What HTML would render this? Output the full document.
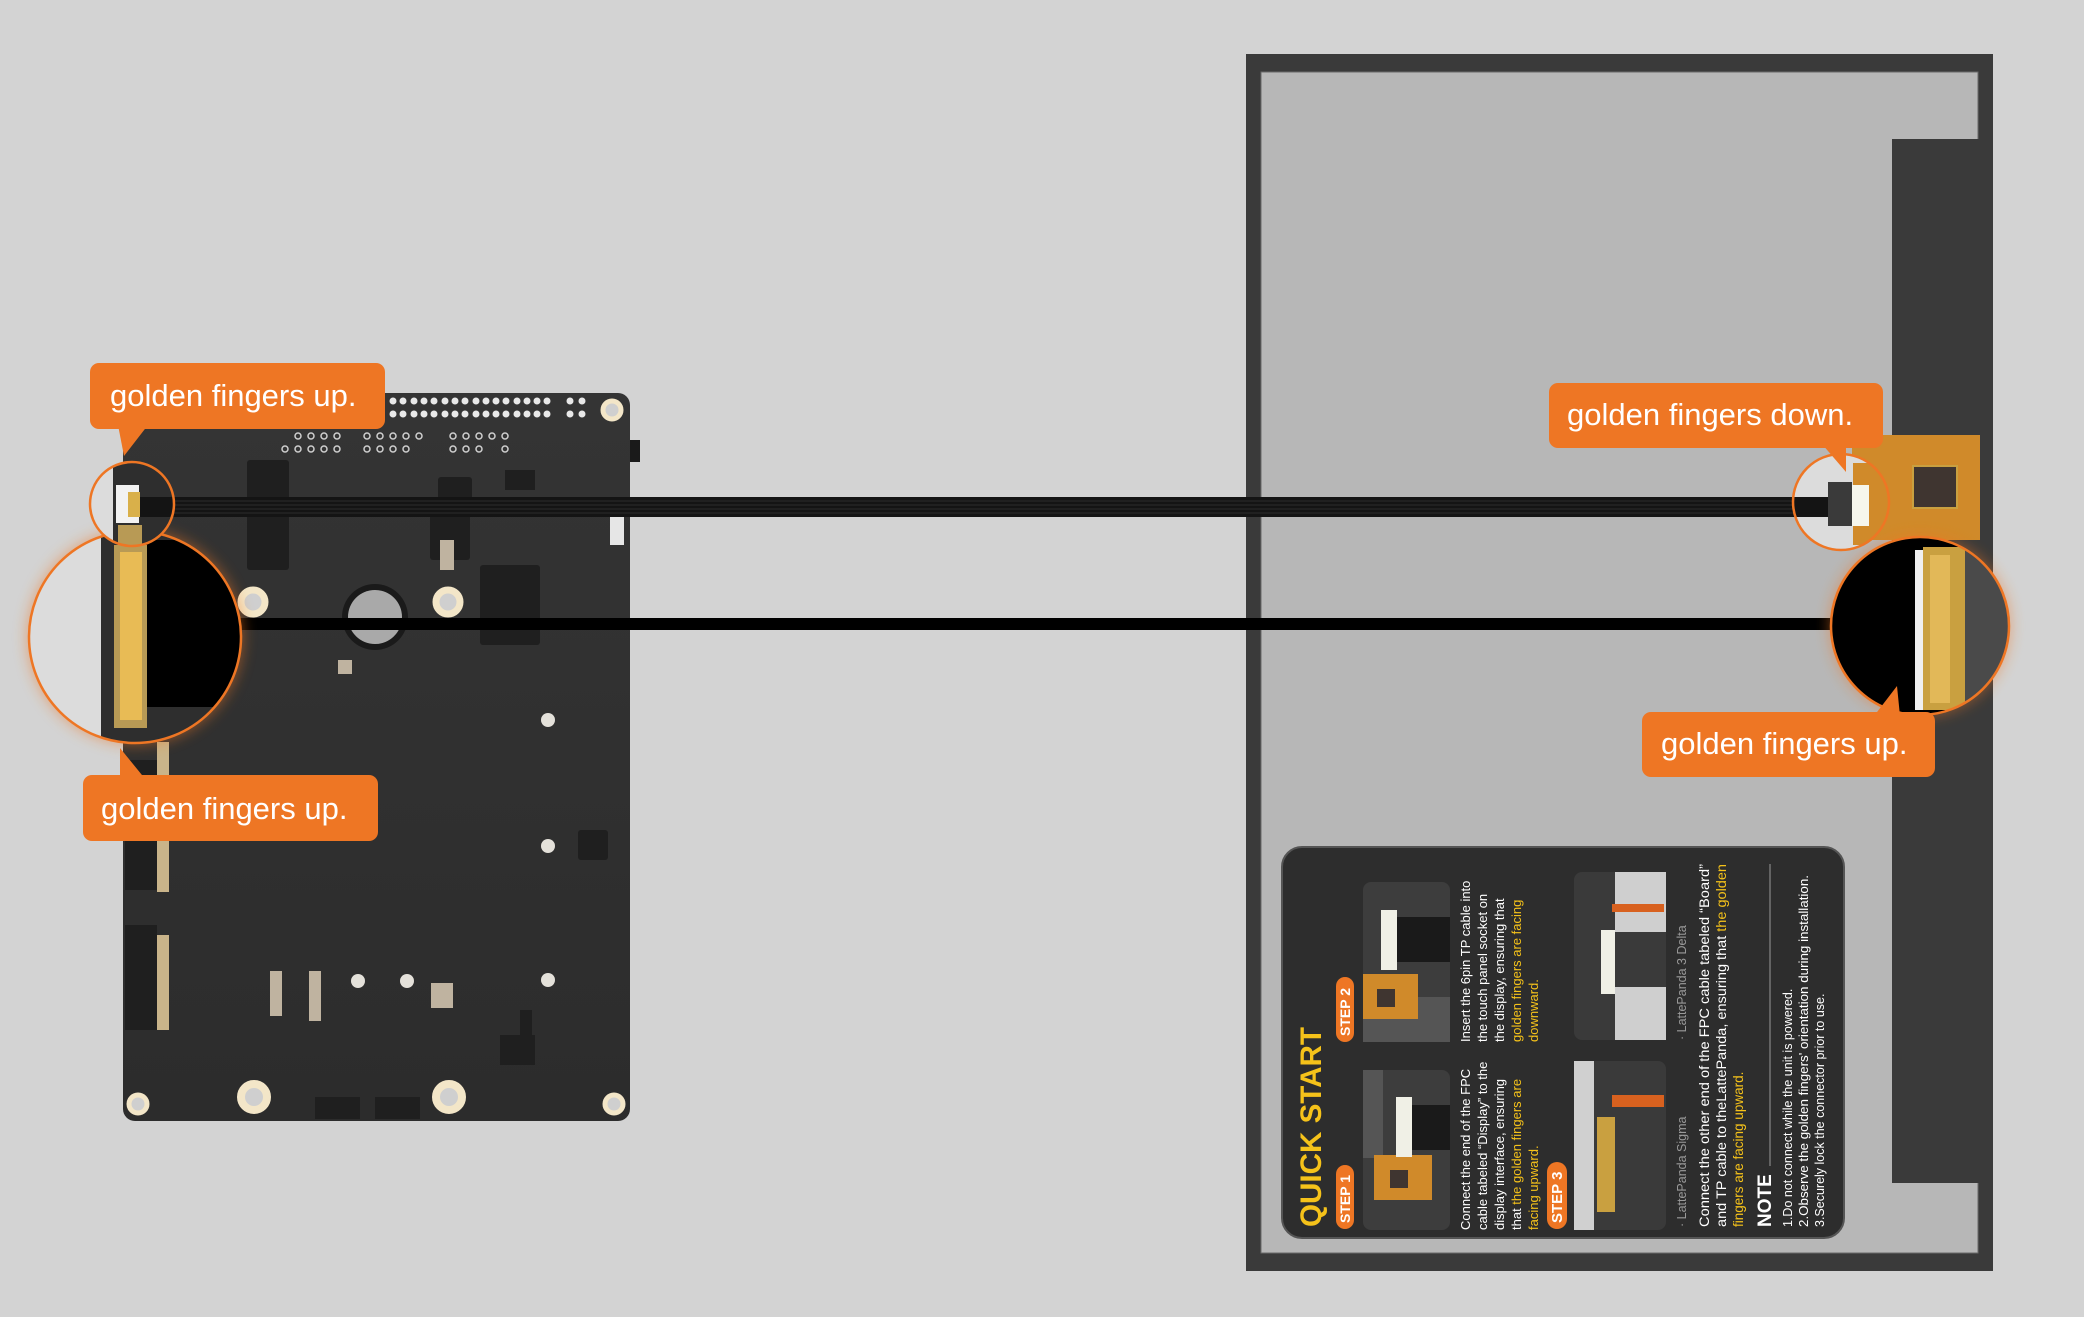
<!DOCTYPE html>
<html><head><meta charset="utf-8"><style>
html,body{margin:0;padding:0;background:#d3d3d3;}
svg{display:block;}
text{font-family:"Liberation Sans",sans-serif;}
</style></head><body>
<svg width="2084" height="1317" viewBox="0 0 2084 1317" xmlns="http://www.w3.org/2000/svg">
<defs>
<filter id="glow" x="-30%" y="-30%" width="160%" height="160%"><feGaussianBlur stdDeviation="7"/></filter>
<clipPath id="cL1"><circle cx="132" cy="504" r="42"/></clipPath>
<clipPath id="cL2"><circle cx="135" cy="637" r="106"/></clipPath>
<clipPath id="cR1"><circle cx="1841" cy="502" r="48"/></clipPath>
<clipPath id="cR2"><circle cx="1920" cy="626" r="89"/></clipPath>
<linearGradient id="bg" x1="0" y1="0" x2="0" y2="1"><stop offset="0" stop-color="#343434"/><stop offset="1" stop-color="#2c2c2c"/></linearGradient>
</defs>
<rect width="2084" height="1317" fill="#d3d3d3"/>

<!-- Display panel -->
<rect x="1246" y="54" width="747" height="1217" fill="#3a3a3a"/>
<rect x="1261" y="72" width="717" height="1181" fill="#b7b7b7" stroke="#6a6a6a" stroke-width="1"/>
<rect x="1892" y="139" width="101" height="1044" fill="#3a3a3a"/>

<!-- FPC on panel -->
<rect x="1852" y="435" width="128" height="105" fill="#d08a2a"/>
<rect x="1913" y="466" width="44" height="42" fill="#3f3530" stroke="#c9a040" stroke-width="2"/>

<!-- Board -->
<rect x="123" y="393" width="507" height="728" rx="12" fill="url(#bg)"/>
<rect x="630" y="440" width="10" height="22" fill="#1a1a1a"/>
<g fill="#e8e8e8">
<circle cx="393" cy="401" r="3.5"/><circle cx="403" cy="401" r="3.5"/><circle cx="414" cy="401" r="3.5"/><circle cx="424" cy="401" r="3.5"/><circle cx="434" cy="401" r="3.5"/><circle cx="445" cy="401" r="3.5"/><circle cx="455" cy="401" r="3.5"/><circle cx="465" cy="401" r="3.5"/><circle cx="476" cy="401" r="3.5"/><circle cx="486" cy="401" r="3.5"/><circle cx="496" cy="401" r="3.5"/><circle cx="506" cy="401" r="3.5"/><circle cx="517" cy="401" r="3.5"/><circle cx="527" cy="401" r="3.5"/><circle cx="537" cy="401" r="3.5"/><circle cx="547" cy="401" r="3.5"/><circle cx="570" cy="401" r="3.5"/><circle cx="582" cy="401" r="3.5"/>
<circle cx="393" cy="414" r="3.5"/><circle cx="403" cy="414" r="3.5"/><circle cx="414" cy="414" r="3.5"/><circle cx="424" cy="414" r="3.5"/><circle cx="434" cy="414" r="3.5"/><circle cx="445" cy="414" r="3.5"/><circle cx="455" cy="414" r="3.5"/><circle cx="465" cy="414" r="3.5"/><circle cx="476" cy="414" r="3.5"/><circle cx="486" cy="414" r="3.5"/><circle cx="496" cy="414" r="3.5"/><circle cx="506" cy="414" r="3.5"/><circle cx="517" cy="414" r="3.5"/><circle cx="527" cy="414" r="3.5"/><circle cx="537" cy="414" r="3.5"/><circle cx="547" cy="414" r="3.5"/><circle cx="570" cy="414" r="3.5"/><circle cx="582" cy="414" r="3.5"/>
</g>
<g fill="none" stroke="#cfcfcf" stroke-width="1.5">
<circle cx="298" cy="436" r="3"/><circle cx="311" cy="436" r="3"/><circle cx="324" cy="436" r="3"/><circle cx="337" cy="436" r="3"/>
<circle cx="367" cy="436" r="3"/><circle cx="380" cy="436" r="3"/><circle cx="393" cy="436" r="3"/><circle cx="406" cy="436" r="3"/><circle cx="419" cy="436" r="3"/>
<circle cx="453" cy="436" r="3"/><circle cx="466" cy="436" r="3"/><circle cx="479" cy="436" r="3"/><circle cx="492" cy="436" r="3"/><circle cx="505" cy="436" r="3"/>
<circle cx="285" cy="449" r="3"/><circle cx="298" cy="449" r="3"/><circle cx="311" cy="449" r="3"/><circle cx="324" cy="449" r="3"/><circle cx="337" cy="449" r="3"/>
<circle cx="367" cy="449" r="3"/><circle cx="380" cy="449" r="3"/><circle cx="393" cy="449" r="3"/><circle cx="406" cy="449" r="3"/>
<circle cx="453" cy="449" r="3"/><circle cx="466" cy="449" r="3"/><circle cx="479" cy="449" r="3"/><circle cx="505" cy="449" r="3"/>
</g>
<!-- chips -->
<g fill="#1f1f1f">
<rect x="247" y="460" width="42" height="110" rx="3"/>
<rect x="438" y="477" width="34" height="30" rx="3"/>
<rect x="480" y="565" width="60" height="80" rx="3"/>
<rect x="430" y="510" width="40" height="50" rx="3"/>
<rect x="505" y="470" width="30" height="20"/>
<rect x="578" y="830" width="30" height="30" rx="3"/>
<rect x="500" y="1035" width="35" height="30"/>
<rect x="315" y="1097" width="45" height="22"/>
<rect x="375" y="1097" width="45" height="22"/>
<rect x="520" y="1010" width="12" height="40"/>
<rect x="125" y="760" width="32" height="130"/>
<rect x="125" y="925" width="32" height="105"/>
</g>
<g fill="#c9b48a"><rect x="157" y="742" width="12" height="150"/><rect x="157" y="935" width="12" height="95"/></g>
<g fill="#bfb3a0">
<rect x="270" y="971" width="12" height="45"/><rect x="309" y="971" width="12" height="50"/><rect x="431" y="983" width="22" height="25"/><rect x="338" y="660" width="14" height="14"/><rect x="440" y="540" width="14" height="30"/>
</g>
<rect x="610" y="515" width="14" height="30" fill="#e6e6e6"/>
<!-- holes -->
<g stroke="#f3e6c8" fill="#cfcfcf">
<circle cx="253" cy="602" r="12" stroke-width="7"/>
<circle cx="448" cy="602" r="12" stroke-width="7"/>
<circle cx="254" cy="1097" r="13" stroke-width="8"/>
<circle cx="449" cy="1097" r="13" stroke-width="8"/>
<circle cx="138" cy="1104" r="9" stroke-width="5"/>
<circle cx="614" cy="1104" r="9" stroke-width="5"/>
<circle cx="612" cy="410" r="9" stroke-width="5"/>
</g>
<g fill="#e4e1da">
<circle cx="358" cy="981" r="7"/><circle cx="407" cy="981" r="7"/><circle cx="548" cy="980" r="7"/><circle cx="548" cy="846" r="7"/><circle cx="548" cy="720" r="7"/>
</g>
<!-- coin cell -->
<circle cx="375" cy="617" r="33" fill="#1a1a1a"/>
<circle cx="375" cy="617" r="27" fill="#a9a9a9"/>

<!-- Cables -->
<rect x="139" y="497" width="1690" height="20" fill="#141414"/>
<g stroke="#2c2c2c" stroke-width="1"><line x1="139" y1="501" x2="1829" y2="501"/><line x1="139" y1="505" x2="1829" y2="505"/><line x1="139" y1="509" x2="1829" y2="509"/><line x1="139" y1="513" x2="1829" y2="513"/></g>
<rect x="200" y="618" width="1640" height="12" fill="#000"/>

<!-- Left circles -->
<circle cx="135" cy="637" r="108" fill="#ee7624" opacity="0.5" filter="url(#glow)"/>
<g clip-path="url(#cL2)">
<rect x="20" y="520" width="250" height="240" fill="#dcdcdc"/>
<rect x="101" y="520" width="170" height="240" fill="#2e2e2e"/>
<rect x="147" y="540" width="120" height="167" fill="#000"/>
<rect x="114" y="545" width="33" height="183" fill="#b89a55"/>
<rect x="120" y="552" width="22" height="168" fill="#e8bb55"/>
</g>
<circle cx="135" cy="637" r="106" fill="none" stroke="#ee7624" stroke-width="2.5"/>
<g clip-path="url(#cL1)">
<rect x="85" y="455" width="95" height="100" fill="#dcdcdc"/>
<rect x="113" y="455" width="70" height="100" fill="#2e2e2e"/>
<rect x="139" y="497" width="45" height="20" fill="#141414"/>
<rect x="116" y="485" width="23" height="38" fill="#f2f2f2"/>
<rect x="128" y="492" width="12" height="25" fill="#d9b04a"/>
<rect x="118" y="525" width="24" height="30" fill="#b89a55"/>
</g>
<circle cx="132" cy="504" r="42" fill="none" stroke="#ee7624" stroke-width="2.5"/>

<!-- Right circles -->
<circle cx="1920" cy="626" r="91" fill="#ee7624" opacity="0.45" filter="url(#glow)"/>
<g clip-path="url(#cR2)">
<rect x="1825" y="530" width="200" height="200" fill="#000"/>
<rect x="1963" y="530" width="60" height="200" fill="#4a4a4a"/>
<rect x="1915" y="550" width="8" height="160" fill="#f0f0f0"/>
<rect x="1923" y="547" width="42" height="163" fill="#c9a040"/>
<rect x="1930" y="555" width="20" height="148" fill="#e2b858"/>
</g>
<circle cx="1920" cy="626" r="89" fill="none" stroke="#ee7624" stroke-width="2.5"/>
<g clip-path="url(#cR1)">
<rect x="1790" y="450" width="110" height="110" fill="#dcdcdc"/>
<rect x="1790" y="497" width="40" height="20" fill="#141414"/>
<rect x="1853" y="463" width="50" height="82" fill="#d08a2a"/>
<rect x="1828" y="482" width="24" height="44" fill="#3a3a3a"/>
<rect x="1852" y="485" width="17" height="41" fill="#f6f6ec"/>
</g>
<circle cx="1841" cy="502" r="48" fill="none" stroke="#ee7624" stroke-width="2.5"/>

<!-- Labels -->
<g fill="#ee7624">
<rect x="90" y="363" width="295" height="66" rx="9"/>
<polygon points="118,425 148,425 124,456"/>
<rect x="83" y="775" width="295" height="66" rx="9"/>
<polygon points="120,780 146,780 120,748"/>
<rect x="1549" y="383" width="334" height="65" rx="9"/>
<polygon points="1822,444 1846,444 1846,472"/>
<rect x="1642" y="712" width="293" height="65" rx="9"/>
<polygon points="1874,716 1900,716 1897,686"/>
</g>
<g fill="#fff" font-size="31">
<text x="110" y="406">golden fingers up.</text>
<text x="101" y="819">golden fingers up.</text>
<text x="1567" y="425">golden fingers down.</text>
<text x="1661" y="754">golden fingers up.</text>
</g>

<!-- Quick start card -->
<rect x="1282" y="847" width="562" height="391" rx="20" fill="#2d2d2d" stroke="#555" stroke-width="2"/>
<g transform="translate(1282,1238) rotate(-90)">
<text x="11" y="39" font-size="30" font-weight="bold" fill="#f5c21a" textLength="200" lengthAdjust="spacingAndGlyphs">QUICK START</text>
<rect x="9" y="54" width="64" height="18" rx="9" fill="#ee7624"/>
<text x="15" y="68" font-size="14" font-weight="bold" fill="#fff">STEP 1</text>
<rect x="196" y="54" width="65" height="18" rx="9" fill="#ee7624"/>
<text x="202" y="68" font-size="14" font-weight="bold" fill="#fff">STEP 2</text>
<rect x="9" y="265" width="67" height="20" rx="10" fill="#ee7624"/>
<text x="15" y="280" font-size="15" font-weight="bold" fill="#fff">STEP 3</text>
<!-- step1 image -->
<rect x="8" y="81" width="160" height="87" rx="8" fill="#3d3d3d"/>
<rect x="80" y="81" width="88" height="20" fill="#555"/>
<rect x="38" y="92" width="45" height="58" fill="#d08a2a"/>
<rect x="50" y="108" width="18" height="18" fill="#3f3530"/>
<rect x="88" y="130" width="45" height="38" fill="#1a1a1a"/>
<rect x="81" y="114" width="60" height="16" fill="#f0f0e6"/>
<!-- step2 image -->
<rect x="196" y="81" width="160" height="87" rx="8" fill="#3d3d3d"/>
<rect x="196" y="81" width="45" height="87" fill="#555"/>
<rect x="219" y="81" width="45" height="55" fill="#d08a2a"/>
<rect x="231" y="95" width="18" height="18" fill="#3f3530"/>
<rect x="276" y="115" width="45" height="53" fill="#1a1a1a"/>
<rect x="268" y="99" width="60" height="16" fill="#f0f0e6"/>
<!-- step3 images -->
<rect x="8" y="292" width="169" height="92" rx="8" fill="#3a3a3a"/>
<rect x="8" y="292" width="169" height="20" fill="#d0d0d0"/>
<rect x="26" y="315" width="95" height="18" fill="#c9a040"/>
<rect x="131" y="330" width="12" height="52" fill="#d8611f"/>
<rect x="198" y="292" width="168" height="92" rx="8" fill="#3a3a3a"/>
<rect x="198" y="333" width="53" height="51" fill="#cfcfcf"/>
<rect x="306" y="333" width="60" height="51" fill="#cfcfcf"/>
<rect x="326" y="330" width="8" height="52" fill="#d8611f"/>
<rect x="244" y="319" width="64" height="14" fill="#f0f0e6"/>
<!-- texts -->
<g font-size="13" fill="#fff">
<text x="8" y="188">Connect the end of the FPC</text>
<text x="8" y="205">cable tabeled “Display” to the</text>
<text x="8" y="222">display interface, ensuring</text>
<text x="8" y="239">that <tspan fill="#f5c21a">the golden fingers are</tspan></text>
<text x="8" y="256" fill="#f5c21a">facing upward.</text>
<text x="196" y="188">Insert the 6pin TP cable into</text>
<text x="196" y="205">the touch panel socket on</text>
<text x="196" y="222">the display, ensuring that</text>
<text x="196" y="239" fill="#f5c21a">golden fingers are facing</text>
<text x="196" y="256" fill="#f5c21a">downward.</text>
</g>
<text x="11" y="404" font-size="12.5" fill="#9a9a9a">· LattePanda Sigma</text>
<text x="198" y="404" font-size="12.5" fill="#9a9a9a">· LattePanda 3 Delta</text>
<g font-size="13.5" fill="#fff">
<text x="11" y="427" textLength="363" lengthAdjust="spacingAndGlyphs">Connect the other end of the FPC cable tabeled “Board”</text>
<text x="11" y="444" textLength="363" lengthAdjust="spacingAndGlyphs">and TP cable to theLattePanda, ensuring that <tspan fill="#f5c21a">the golden</tspan></text>
<text x="11" y="461" fill="#f5c21a">fingers are facing upward.</text>
</g>
<text x="11" y="489" font-size="19" font-weight="bold" fill="#fff">NOTE</text>
<line x1="72" y1="488" x2="374" y2="488" stroke="#999" stroke-width="1"/>
<g font-size="12.5" fill="#fff">
<text x="11" y="510">1.Do not connect while the unit is powered.</text>
<text x="11" y="526" textLength="352" lengthAdjust="spacingAndGlyphs">2.Observe the golden fingers' orientation during installation.</text>
<text x="11" y="542">3.Securely lock the connector prior to use.</text>
</g>
</g>
</svg>
</body></html>
